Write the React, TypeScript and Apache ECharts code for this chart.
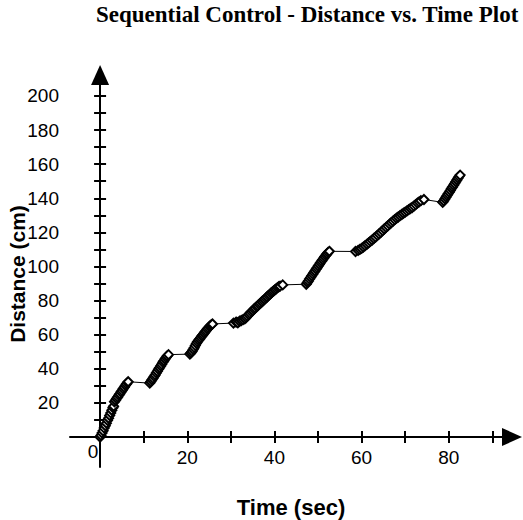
import React, { useEffect, useRef } from "react";
import * as echarts from "echarts";

// Time (sec), Distance (cm) samples per motion segment
const segA = [[0,0],[0.2,0.9],[0.45,2.3],[0.7,3.6],[0.95,5.2],[1.2,6.6],[1.45,8.1],[1.7,9.7],[1.95,11.0],[2.2,12.6],[2.45,14.1],[2.7,15.7],[2.95,17.2],[3.1,18.0]];
const segB = [[3.3,20.6],[3.55,21.5],[3.8,22.6],[4.05,23.4],[4.3,24.5],[4.55,25.3],[4.8,26.4],[5.05,27.2],[5.3,28.3],[5.55,29.1],[5.8,30.2],[6.05,31.1],[6.3,31.9],[6.45,32.4]];
const segC = [[11.4,31.6],[11.65,32.5],[11.9,33.6],[12.15,34.4],[12.4,35.5],[12.65,36.4],[12.9,37.6],[13.15,38.5],[13.4,39.7],[13.65,40.6],[13.9,41.7],[14.15,42.6],[14.4,43.8],[14.65,44.7],[14.9,45.7],[15.15,46.6],[15.4,47.5],[15.7,48.3]];
const segD = [[20.6,48.6],[20.85,49.4],[21.1,50.2],[21.35,51.3],[21.6,52.4],[21.85,53.6],[22.1,54.9],[22.35,55.8],[22.6,56.7],[22.85,57.5],[23.1,58.4],[23.35,59.3],[23.6,60.0],[23.85,60.8],[24.1,61.7],[24.35,62.4],[24.6,63.3],[24.85,64.0],[25.1,64.8],[25.35,65.4],[25.6,65.9],[25.8,66.3]];
const segE = [[30.6,66.8],[31.2,67.4],[31.6,67.0],[32.0,67.9],[32.4,68.3],[32.8,68.8],[33.2,69.3],[33.5,70.1],[33.8,70.9],[34.1,71.8],[34.4,72.5],[34.7,73.4],[35.0,74.1],[35.3,74.9],[35.6,75.6],[35.9,76.4],[36.2,77.0],[36.5,77.8],[36.8,78.5],[37.1,79.3],[37.4,80.0],[37.7,80.6],[38.0,81.4],[38.3,82.1],[38.6,82.9],[38.9,83.5],[39.2,84.3],[39.5,85.0],[39.8,85.6],[40.1,86.3],[40.4,86.9],[40.7,87.6],[41.0,88.1],[41.3,88.5],[41.9,89.2]];
const segF = [[47.3,89.6],[47.55,90.6],[47.8,91.5],[48.05,92.6],[48.3,93.6],[48.55,94.5],[48.8,95.5],[49.05,96.5],[49.3,97.4],[49.55,98.4],[49.8,99.3],[50.05,100.3],[50.3,101.2],[50.55,102.2],[50.8,103.1],[51.05,104.0],[51.3,104.9],[51.55,105.8],[51.8,106.6],[52.05,107.4],[52.3,108.2],[52.6,108.9]];
const segG = [[58.6,108.8],[59.2,109.4],[59.6,110.0],[60.0,110.6],[60.4,111.4],[60.8,112.2],[61.2,113.0],[61.6,113.8],[62.0,114.7],[62.4,115.5],[62.8,116.4],[63.2,117.2],[63.6,118.2],[64.0,119.1],[64.4,120.0],[64.8,121.0],[65.2,122.0],[65.6,122.9],[66.0,123.8],[66.4,124.8],[66.8,125.7],[67.2,126.6],[67.6,127.5],[68.0,128.3],[68.4,129.0],[68.8,129.8],[69.2,130.5],[69.6,131.2],[70.0,131.9],[70.4,132.6],[70.8,133.3],[71.2,134.0],[71.6,134.6],[72.0,135.4],[72.4,136.3],[72.8,137.2],[73.2,137.9],[73.6,138.6],[74.3,139.3]];
const segH = [[78.6,137.6],[78.85,138.5],[79.1,139.6],[79.35,140.6],[79.6,141.6],[79.85,142.6],[80.1,143.6],[80.35,144.6],[80.6,145.7],[80.85,146.6],[81.1,147.6],[81.35,148.6],[81.6,149.7],[81.85,150.7],[82.1,151.7],[82.35,152.7],[82.6,153.6]];

const xTicks = [10, 20, 30, 40, 50, 60, 70, 80, 90];
const xLabels = [20, 40, 60, 80];
const yTicks = [10, 20, 30, 40, 50, 60, 70, 80, 90, 100, 110, 120, 130, 140, 150, 160, 170, 180, 190, 200];
const yLabels = [20, 40, 60, 80, 100, 120, 140, 160, 180, 200];

const TITLE = "Sequential Control - Distance vs. Time Plot";
const X_NAME = "Time (sec)";
const Y_NAME = "Distance (cm)";

export default function App() {
  const ref = useRef<HTMLDivElement>(null);
  useEffect(() => {
    if (!ref.current) return;
    const chart = echarts.init(ref.current, null, { renderer: "svg" });
    const data = [...segA, ...segB, ...segC, ...segD, ...segE, ...segF, ...segG, ...segH];
    const sans = "'Liberation Sans', Arial, sans-serif";
    const xMin = -6.9, xMax = 94.5, yMin = -17.6, yMax = 212.3;
    const lineStyle = { color: "#000", width: 2 };
    chart.setOption({
      animation: false,
      backgroundColor: "#fff",
      title: {
        text: TITLE,
        left: 96,
        top: 3,
        padding: 0,
        textStyle: { fontFamily: "'Liberation Serif', 'Times New Roman', serif", fontWeight: "bold", fontSize: 23, color: "#000" },
      },
      grid: { left: 70, right: 11, top: 75, bottom: 53, containLabel: false, outerBoundsMode: "none" },
      xAxis: [
        {
          type: "value", min: xMin, max: xMax, position: "bottom",
          axisLine: { show: true, onZero: true, lineStyle, symbol: ["none", "triangle"], symbolSize: [18, 20] },
          axisTick: { show: true, inside: false, length: 6, lineStyle, customValues: xTicks },
          axisLabel: { show: true, customValues: xLabels, margin: -19, fontSize: 19, fontFamily: sans, color: "#000" },
          splitLine: { show: false },
          name: X_NAME, nameLocation: "middle", nameGap: 29, nameMoveOverlap: false,
          nameTextStyle: { fontSize: 22, fontWeight: "bold", fontFamily: sans, color: "#000" },
        },
        {
          type: "value", min: xMin, max: xMax, position: "bottom",
          axisLine: { show: false, onZero: true },
          axisTick: { show: true, inside: true, length: 6, lineStyle, customValues: xTicks },
          axisLabel: { show: false },
          splitLine: { show: false },
        },
      ],
      yAxis: [
        {
          type: "value", min: yMin, max: yMax, position: "left",
          axisLine: { show: true, onZero: true, lineStyle, symbol: ["none", "triangle"], symbolSize: [18, 20] },
          axisTick: { show: true, inside: false, length: 6, lineStyle, customValues: yTicks },
          axisLabel: { show: true, customValues: yLabels, margin: 11, fontSize: 19, fontFamily: sans, color: "#000" },
          splitLine: { show: false },
        },
        {
          type: "value", min: yMin, max: yMax, position: "left",
          axisLine: { show: false, onZero: true },
          axisTick: { show: true, inside: true, length: 6, lineStyle, customValues: yTicks },
          axisLabel: { show: false },
          splitLine: { show: false },
        },
      ],
      graphic: [
        {
          type: "text", x: 93, y: 451,
          style: { text: "0", fontSize: 19, fontFamily: sans, fill: "#000", align: "center", verticalAlign: "middle" },
        },
        {
          type: "text", x: 17, y: 274, rotation: Math.PI / 2,
          style: { text: Y_NAME, fontSize: 21, fontWeight: "bold", fontFamily: sans, fill: "#000", align: "center", verticalAlign: "middle" },
        },
      ],
      series: [
        {
          type: "line",
          xAxisIndex: 0,
          yAxisIndex: 0,
          data,
          symbol: "diamond",
          symbolSize: 9,
          showAllSymbol: true,
          lineStyle: { color: "#000", width: 1 },
          itemStyle: { color: "#fff", borderColor: "#000", borderWidth: 2 },
        },
      ],
    });
    return () => chart.dispose();
  }, []);
  return <div ref={ref} style={{ width: 523, height: 520, position: "absolute", left: 0, top: 0 }} />;
}
